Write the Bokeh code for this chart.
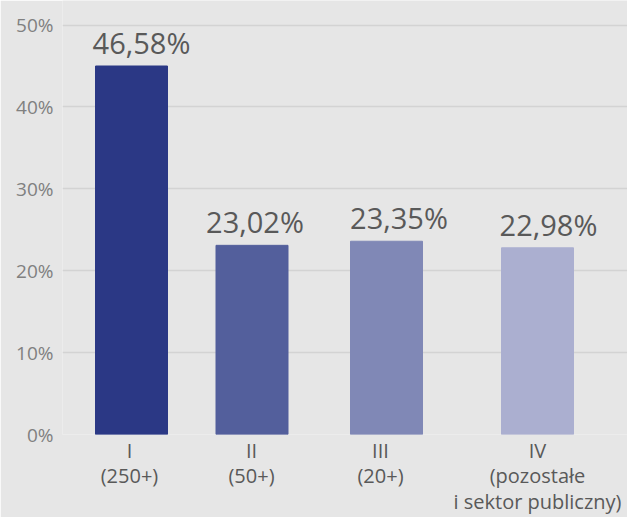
from bokeh.plotting import figure
from bokeh.models import Range1d, FixedTicker, ColumnDataSource
from bokeh.core.properties import value
from bokeh.embed import file_html
from bokeh.resources import INLINE

# data
categories = ["I\n(250+)", "II\n(50+)", "III\n(20+)", "IV\n(pozostałe\ni sektor publiczny)"]
bar_values = [45.0, 23.1, 23.6, 22.8]          # bar heights as drawn (%)
value_labels = ["46,58%", "23,02%", "23,35%", "22,98%"]
colors = ["#2b3885", "#535f9c", "#8088b6", "#abafd0"]
y_ticks = [0, 10, 20, 30, 40, 50]

# layout positions
bar_x = [69, 189.5, 324, 475]
label_x = [79, 192.5, 336.5, 486]
cat_tick_x = [67, 189, 318, 475]
bar_w = 72

BG = "#e6e6e6"
FONT = "Open Sans"

p = figure(width=627, height=517, output_backend="svg", toolbar_location=None,
           x_range=Range1d(0, 565), y_range=Range1d(0, 53),
           min_border_left=62, min_border_right=0, min_border_top=0, min_border_bottom=80)
p.background_fill_color = BG
p.border_fill_color = BG
p.outline_line_color = None

src = ColumnDataSource(dict(x=bar_x, top=bar_values, color=colors,
                            lx=label_x, lbl=value_labels))
p.vbar(x="x", top="top", width=bar_w, bottom=0, color="color", source=src)
p.text(x="lx", y="top", text="lbl", source=src, text_align="center",
       text_baseline="bottom", y_offset=-4, text_font=value(FONT),
       text_font_size="29px", text_color="#595959")

# y axis
p.yaxis.ticker = FixedTicker(ticks=y_ticks)
p.yaxis.major_label_overrides = {t: f"{t}%" for t in y_ticks}
p.yaxis.axis_line_color = None
p.yaxis.major_tick_line_color = None
p.yaxis.minor_tick_line_color = None
p.yaxis.major_tick_out = 0
p.yaxis.major_label_standoff = 9
p.yaxis.major_label_text_font = FONT
p.yaxis.major_label_text_font_size = "19px"
p.yaxis.major_label_text_color = "#808080"

# x axis
p.xaxis.ticker = FixedTicker(ticks=cat_tick_x)
p.xaxis.major_label_overrides = {t: c for t, c in zip(cat_tick_x, categories)}
p.xaxis.axis_line_color = None
p.xaxis.major_tick_line_color = None
p.xaxis.minor_tick_line_color = None
p.xaxis.major_tick_out = 0
p.xaxis.major_label_standoff = 2
p.xaxis.major_label_text_font = FONT
p.xaxis.major_label_text_font_size = "20px"
p.xaxis.major_label_text_color = "#595959"
p.xaxis.major_label_text_line_height = 0.95

p.xgrid.grid_line_color = None
p.ygrid.ticker = FixedTicker(ticks=y_ticks)
p.ygrid.grid_line_color = "#d3d3d3"
p.ygrid.grid_line_width = 1.5

open("out.html", "w").write(file_html(p, INLINE))
